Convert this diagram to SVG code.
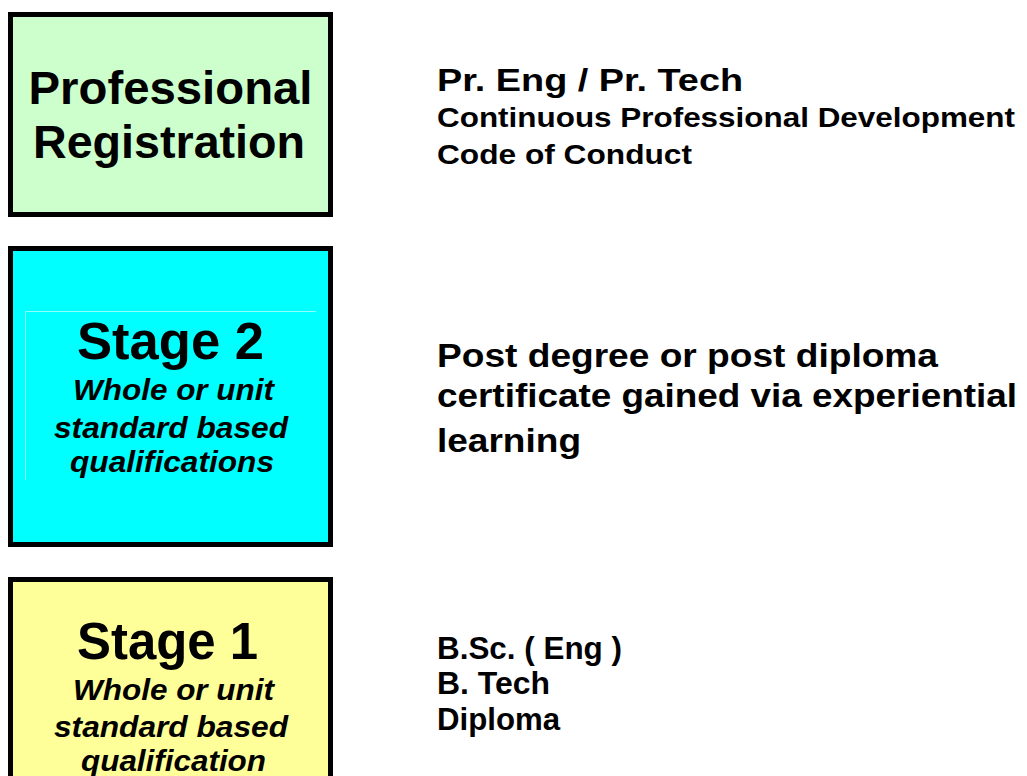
<svg xmlns="http://www.w3.org/2000/svg" width="1027" height="776" viewBox="0 0 1027 776">
  <style>
    .box { stroke: #000; stroke-width: 5; }
    .t { font-family: "Liberation Sans", Arial, sans-serif; font-weight: bold; fill: #000; }
    .c { text-anchor: middle; }
    .i { font-style: italic; }
  </style>
  <rect width="1027" height="776" fill="#fff"/>

  <!-- Professional Registration -->
  <g id="node-registration">
    <rect class="box" x="10.5" y="14.5" width="320" height="200" fill="#ccffcc"/>
    <text class="t c" x="170.5" y="104" font-size="46" textLength="284" lengthAdjust="spacingAndGlyphs">Professional</text>
    <text class="t c" x="169" y="158" font-size="46" textLength="272" lengthAdjust="spacingAndGlyphs">Registration</text>
  </g>

  <!-- Stage 2 -->
  <g id="node-stage2">
    <rect class="box" x="10.5" y="248.5" width="320" height="296" fill="#00ffff"/>
    <path d="M25.5 480 V311.5 H316" fill="none" stroke="#8fffff" stroke-width="1"/>
    <text class="t c" x="170.5" y="359" font-size="51" textLength="187" lengthAdjust="spacingAndGlyphs">Stage 2</text>
    <text class="t c i" x="173.5" y="400" font-size="29.5" textLength="201" lengthAdjust="spacingAndGlyphs">Whole or unit</text>
    <text class="t c i" x="171" y="438" font-size="29.5" textLength="234" lengthAdjust="spacingAndGlyphs">standard based</text>
    <text class="t c i" x="172" y="472" font-size="29.5" textLength="204" lengthAdjust="spacingAndGlyphs">qualifications</text>
  </g>

  <!-- Stage 1 -->
  <g id="node-stage1">
    <rect class="box" x="10.5" y="579.5" width="320" height="220" fill="#ffff99"/>
    <text class="t c" x="167.5" y="659" font-size="51" textLength="181" lengthAdjust="spacingAndGlyphs">Stage 1</text>
    <text class="t c i" x="173.5" y="700" font-size="29.5" textLength="201" lengthAdjust="spacingAndGlyphs">Whole or unit</text>
    <text class="t c i" x="171" y="737" font-size="29.5" textLength="234" lengthAdjust="spacingAndGlyphs">standard based</text>
    <text class="t c i" x="173.5" y="771" font-size="29.5" textLength="185" lengthAdjust="spacingAndGlyphs">qualification</text>
  </g>

  <!-- descriptions -->
  <g id="desc-registration">
    <text class="t" x="437" y="91" font-size="32" textLength="306" lengthAdjust="spacingAndGlyphs">Pr. Eng / Pr. Tech</text>
    <text class="t" x="437" y="127" font-size="27.5" textLength="578" lengthAdjust="spacingAndGlyphs">Continuous Professional Development</text>
    <text class="t" x="437" y="164" font-size="27.5" textLength="255" lengthAdjust="spacingAndGlyphs">Code of Conduct</text>
  </g>
  <g id="desc-stage2">
    <text class="t" x="437" y="367" font-size="34" textLength="501" lengthAdjust="spacingAndGlyphs">Post degree or post diploma</text>
    <text class="t" x="437" y="407" font-size="34" textLength="580" lengthAdjust="spacingAndGlyphs">certificate gained via experiential</text>
    <text class="t" x="437" y="452" font-size="34" textLength="144" lengthAdjust="spacingAndGlyphs">learning</text>
  </g>
  <g id="desc-stage1">
    <text class="t" x="437" y="659" font-size="31.5" textLength="185" lengthAdjust="spacingAndGlyphs">B.Sc. ( Eng )</text>
    <text class="t" x="437" y="694" font-size="31.5" textLength="113" lengthAdjust="spacingAndGlyphs">B. Tech</text>
    <text class="t" x="437" y="730" font-size="31.5" textLength="123" lengthAdjust="spacingAndGlyphs">Diploma</text>
  </g>

  <!-- no connectors are drawn in this figure -->
  <g id="connectors"/>
</svg>
